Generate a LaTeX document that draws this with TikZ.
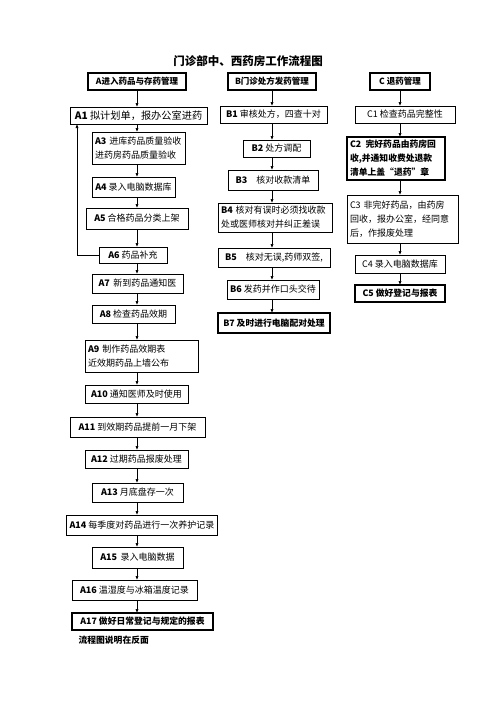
\documentclass[tikz,border=0pt]{standalone}
\usepackage{fontspec}
\setmainfont{Noto Sans CJK SC}
\usetikzlibrary{arrows.meta}

\begin{document}
\begin{tikzpicture}[x=1pt, y=-1pt,
    box/.style={draw, line width=0.7pt, inner sep=3pt, outer sep=0pt,
                font=\fontsize{9}{14}\selectfont},
    bbox/.style={box, line width=1.4pt, font=\fontsize{8.8}{14}\selectfont\bfseries},
    arr/.style={-{Latex[length=4pt,width=3.2pt]}, line width=0.7pt}]
  \useasboundingbox (0,0) rectangle (496,702);
  \node[font=\fontsize{11.5}{14}\selectfont\bfseries] (title) at (248,61) {门诊部中、西药房工作流程图};
  % column headers
  \node[bbox, minimum width=98pt, minimum height=17pt, font=\fontsize{8.5}{14}\selectfont\bfseries] (hA) at (137,81.5) {A进入药品与存药管理};
  \node[bbox, minimum width=88pt, minimum height=17pt, font=\fontsize{8.5}{14}\selectfont\bfseries] (hB) at (272,81.5) {B门诊处方发药管理};
  \node[bbox, minimum width=60pt, minimum height=17pt, font=\fontsize{8.5}{14}\selectfont\bfseries] (hC) at (400,81.5) {C 退药管理};
  % A: incoming drugs and storage
  \node[box, minimum width=137pt, minimum height=17pt, font=\fontsize{10.2}{14}\selectfont] (A1) at (138.5,115.5) {\textbf{A1} 拟计划单，报办公室进药};
  \node[box, text width=87pt, minimum height=32pt, align=left] (A3) at (138.5,148) {\textbf{A3} 进库药品质量验收\\进药房药品质量验收};
  \node[box, minimum width=83pt, minimum height=20pt] (A4) at (133.5,187) {\textbf{A4} 录入电脑数据库};
  \node[box, minimum width=102pt, minimum height=21pt] (A5) at (137,218.5) {\textbf{A5} 合格药品分类上架};
  \node[box, minimum width=68pt, minimum height=16pt] (A6) at (133,255) {\textbf{A6} 药品补充};
  \node[box, minimum width=91pt, minimum height=19pt] (A7) at (137.5,283.5) {\textbf{A7}\, 新到药品通知医};
  \node[box, minimum width=83pt, minimum height=18pt] (A8) at (133.5,314) {\textbf{A8} 检查药品效期};
  \node[box, text width=107pt, minimum height=32pt, align=left] (A9) at (141.5,356) {\textbf{A9} 制作药品效期表\\近效期药品上墙公布};
  \node[box, minimum width=103pt, minimum height=18pt] (A10) at (136.5,394) {\textbf{A10} 通知医师及时使用};
  \node[box, minimum width=135pt, minimum height=20pt] (A11) at (137.5,427) {\textbf{A11} 到效期药品提前一月下架};
  \node[box, minimum width=103pt, minimum height=18pt] (A12) at (136.5,459) {\textbf{A12} 过期药品报废处理};
  \node[box, minimum width=91pt, minimum height=19pt] (A13) at (137.5,492.5) {\textbf{A13} 月底盘存一次};
  \node[box, minimum width=150pt, minimum height=20pt] (A14) at (142,525) {\textbf{A14} 每季度对药品进行一次养护记录};
  \node[box, minimum width=91pt, minimum height=21pt] (A15) at (137.5,557.5) {\textbf{A15}\, 录入电脑数据};
  \node[box, minimum width=125pt, minimum height=20pt] (A16) at (134.5,590) {\textbf{A16} 温湿度与冰箱温度记录};
  \node[bbox, minimum width=141pt, minimum height=17pt] (A17) at (142.5,621.5) {A17 做好日常登记与规定的报表};
  \node[font=\fontsize{8.8}{14}\selectfont\bfseries, anchor=west] (note) at (75,640) {流程图说明在反面};
  % B: outpatient prescriptions
  \node[box, minimum width=107pt, minimum height=17pt] (B1) at (273.5,114.5) {\textbf{B1} 审核处方，四查十对};
  \node[box, minimum width=67pt, minimum height=17pt] (B2) at (276.5,148.5) {\textbf{B2} 处方调配};
  \node[box, minimum width=90pt, minimum height=20pt] (B3) at (273,180) {\textbf{B3}\quad 核对收款清单};
  \node[box, text width=108pt, minimum height=29pt, align=left] (B4) at (275,217.5) {\textbf{B4} 核对有误时必须找收款\\处或医师核对并纠正差误};
  \node[box, minimum width=112pt, minimum height=19pt] (B5) at (274,257.5) {\textbf{B5}\quad 核对无误,药师双签,};
  \node[box, minimum width=90pt, minimum height=19pt] (B6) at (273,289.5) {\textbf{B6} 发药并作口头交待};
  \node[bbox, minimum width=112pt, minimum height=20pt] (B7) at (274,323) {B7 及时进行电脑配对处理};
  % C: returned drugs
  \node[box, minimum width=100pt, minimum height=17pt] (C1) at (405,114.5) {C1 检查药品完整性};
  \node[bbox, text width=92pt, minimum height=43pt, align=left] (C2) at (396,158.5) {C2\, 完好药品由药房回\\收,并通知收费处退款\\清单上盖“退药”章};
  \node[box, text width=105pt, minimum height=48pt, align=left] (C3) at (402.5,219) {C3 非完好药品，由药房\\回收，报办公室，经同意\\后，作报废处理};
  \node[box, minimum width=90pt, minimum height=18pt] (C4) at (400,264) {C4 录入电脑数据库};
  \node[bbox, minimum width=90pt, minimum height=17pt] (C5) at (400,293.5) {C5 做好登记与报表};
  % connectors
  \foreach \u/\v in {hA/A1, A1/A3, A3/A4, A4/A5, A5/A6, A6/A7, A7/A8, A8/A9, A9/A10,
                     A10/A11, A11/A12, A12/A13, A13/A14, A14/A15, A15/A16, A16/A17}
    \draw[arr] (\u.south -| hA) -- (\v.north -| hA);
  \foreach \u/\v in {hB/B1, B1/B2, B2/B3, B3/B4, B4/B5, B5/B6, B6/B7}
    \draw[arr] (\u.south -| hB) -- (\v.north -| hB);
  \foreach \u/\v in {hC/C1, C1/C2, C2/C3, C3/C4, C4/C5}
    \draw[arr] (\u.south -| hC) -- (\v.north -| hC);
  \draw[arr] (A6.west) -| ([xshift=7pt]A1.south west);
\end{tikzpicture}
\end{document}
